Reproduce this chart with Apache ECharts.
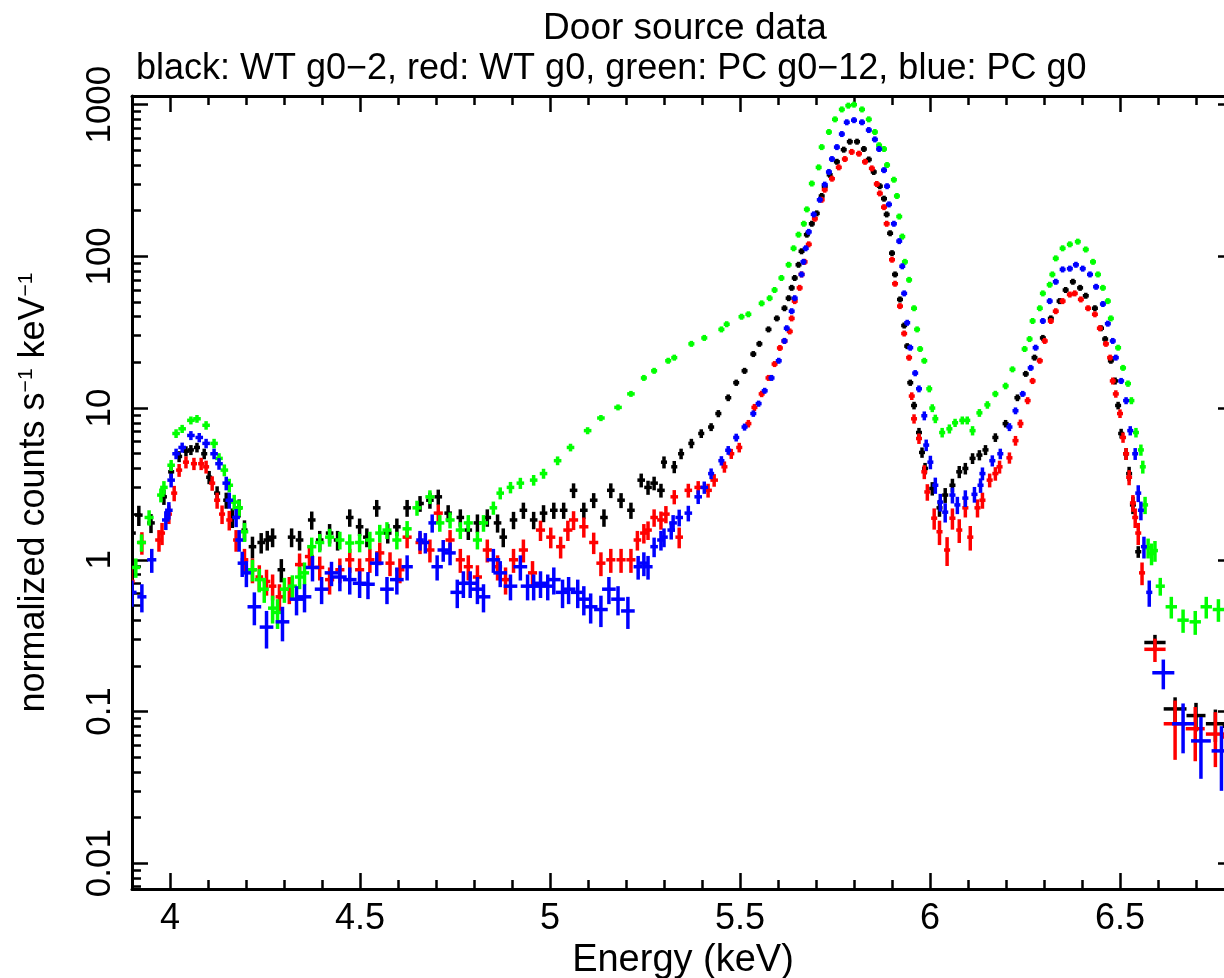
<!DOCTYPE html>
<html><head><meta charset="utf-8">
<script src="https://cdn.jsdelivr.net/npm/echarts@6/dist/echarts.min.js"></script>
<style>html,body{margin:0;padding:0;background:#fff}#chart{width:1224px;height:978px}</style>
</head><body><div id="chart"></div>
<script>
// ---- tick values / labels ----
const xTickValues = [4, 4.5, 5, 5.5, 6, 6.5];
const xMinorTickValues = [4.1,4.2,4.3,4.4,4.6,4.7,4.8,4.9,5.1,5.2,5.3,5.4,5.6,5.7,5.8,5.9,6.1,6.2,6.3,6.4,6.6,6.7];
const yTickValues = [0.01, 0.1, 1, 10, 100, 1000];
const yTickLabels = ['0.01', '0.1', '1', '10', '100', '1000'];
const yMinorTickValues = [0.007,0.008,0.009,0.02,0.03,0.04,0.05,0.06,0.07,0.08,0.09,0.2,0.3,0.4,0.5,0.6,0.7,0.8,0.9,2,3,4,5,6,7,8,9,20,30,40,50,60,70,80,90,200,300,400,500,600,700,800,900];
const seriesNames = ['WT g0-2', 'WT g0', 'PC g0-12', 'PC g0'];

// ---- data: [energy keV, normalized counts s^-1 keV^-1, half bin width, 1-sigma error] ----
const blackData = [
[3.900,1.50,0.010,0.25],[3.918,1.97,0.010,0.30],[3.950,1.75,0.010,0.25],[3.984,2.60,0.008,0.30],
[4.003,3.80,0.008,0.35],[4.024,4.80,0.008,0.40],[4.042,5.20,0.008,0.40],[4.055,5.30,0.008,0.40],
[4.071,5.50,0.008,0.40],[4.090,5.00,0.008,0.40],[4.103,3.50,0.008,0.35],[4.124,2.75,0.008,0.30],
[4.148,2.47,0.008,0.30],[4.164,1.90,0.008,0.28],[4.182,2.20,0.008,0.30],[4.196,1.57,0.008,0.25],
[4.217,1.22,0.010,0.20],[4.240,1.30,0.010,0.20],[4.256,1.35,0.010,0.20],[4.270,1.41,0.010,0.20],
[4.293,0.86,0.010,0.15],[4.320,1.41,0.010,0.20],[4.341,1.35,0.010,0.20],[4.373,1.83,0.010,0.25],
[4.394,1.35,0.010,0.20],[4.420,1.50,0.010,0.22],[4.441,1.35,0.010,0.20],[4.473,1.90,0.010,0.25],
[4.499,1.65,0.010,0.22],[4.518,1.41,0.010,0.20],[4.544,2.20,0.010,0.28],[4.573,1.50,0.010,0.22],
[4.597,1.65,0.010,0.22],[4.624,2.20,0.010,0.28],[4.658,2.35,0.010,0.28],[4.684,2.47,0.010,0.30],
[4.706,2.60,0.010,0.30],[4.732,2.03,0.010,0.26],[4.764,1.90,0.010,0.25],[4.785,1.57,0.010,0.22],
[4.809,1.75,0.010,0.24],[4.835,1.90,0.010,0.25],[4.862,1.75,0.010,0.24],[4.877,1.41,0.010,0.20],
[4.904,1.83,0.010,0.24],[4.930,2.12,0.010,0.26],[4.957,1.83,0.010,0.24],[4.983,2.03,0.010,0.26],
[5.010,2.12,0.010,0.26],[5.036,2.12,0.010,0.26],[5.062,2.87,0.010,0.32],[5.089,2.12,0.010,0.26],
[5.115,2.47,0.010,0.28],[5.142,1.90,0.010,0.25],[5.160,2.87,0.010,0.32],[5.187,2.47,0.010,0.28],
[5.213,2.12,0.010,0.26],[5.240,3.35,0.010,0.35],[5.258,3.00,0.010,0.32],[5.274,3.20,0.010,0.33],
[5.292,2.87,0.010,0.30],[5.300,4.40,0.008,0.40],[5.327,4.10,0.008,0.38],[5.345,5.00,0.008,0.40],
[5.372,5.85,0.008,0.42],[5.398,6.80,0.008,0.45],[5.424,7.50,0.008,0.45],[5.443,9.20,0.008,0.50],
[5.469,11.7,0.008,0.60],[5.490,14.7,0.006,0.70],[5.512,17.6,0.006,0.80],[5.535,22.7,0.006,0.90],
[5.551,26.5,0.006,1.0],[5.575,33,0.006,1.2],[5.597,39,0.005,1.3],[5.617,45.5,0.005,1.4],
[5.628,53,0.005,1.6],[5.636,62,0.005,1.8],[5.644,72,0.005,2.0],[5.654,88,0.005,2.4],
[5.662,108,0.005,2.8],[5.676,139,0.005,3.5],[5.689,164,0.005,4],[5.702,192,0.005,5],
[5.715,250,0.005,6],[5.723,290,0.005,7],[5.736,345,0.005,8],[5.755,420,0.005,10],
[5.773,505,0.005,12],[5.789,570,0.005,13],[5.808,570,0.005,13],[5.826,510,0.005,12],
[5.839,435,0.005,10],[5.852,360,0.005,9],[5.868,290,0.005,7],[5.879,240,0.005,6],
[5.886,189,0.005,5],[5.895,142,0.005,4],[5.900,105,0.005,3],[5.908,76,0.005,2.2],
[5.921,52,0.005,1.6],[5.932,35,0.005,1.2],[5.940,25.6,0.005,1.0],[5.948,14.7,0.005,0.7],
[5.958,10.4,0.005,0.6],[5.971,6.9,0.006,0.5],[5.979,5.1,0.006,0.4],[5.987,4.0,0.006,0.35],
[6.006,2.95,0.008,0.3],[6.025,2.20,0.008,0.28],[6.040,2.67,0.008,0.3],[6.059,3.10,0.008,0.32],
[6.077,3.80,0.008,0.35],[6.093,4.00,0.008,0.35],[6.112,4.66,0.008,0.38],[6.130,4.90,0.008,0.38],
[6.146,5.30,0.008,0.4],[6.172,6.40,0.008,0.42],[6.199,7.90,0.008,0.45],[6.230,11.7,0.006,0.6],
[6.252,16.8,0.006,0.7],[6.275,21.5,0.006,0.8],[6.297,29,0.005,1.0],[6.318,39,0.005,1.2],
[6.341,50.7,0.005,1.5],[6.357,60,0.005,1.7],[6.376,68,0.005,1.9],[6.395,62,0.005,1.8],
[6.410,55,0.005,1.6],[6.434,45.5,0.005,1.4],[6.450,33.6,0.005,1.2],[6.461,28.5,0.005,1.1],
[6.476,20.5,0.005,0.9],[6.487,15.1,0.005,0.8],[6.495,10.4,0.005,0.6],[6.503,6.8,0.006,0.5],
[6.516,5.0,0.006,0.45],[6.524,3.7,0.006,0.4],[6.534,2.3,0.006,0.3],[6.548,1.13,0.008,0.1],
[6.592,0.285,0.028,0.035],[6.645,0.104,0.030,0.02],[6.700,0.094,0.025,0.02],[6.751,0.083,0.025,0.02],
[6.790,0.080,0.020,0.02]
];
const redData = [
[3.897,0.72,0.010,0.15],[3.926,1.30,0.010,0.22],[3.971,1.35,0.010,0.22],[3.979,1.50,0.008,0.25],
[3.997,2.00,0.008,0.28],[4.011,2.75,0.008,0.32],[4.024,3.90,0.008,0.38],[4.042,4.40,0.008,0.4],
[4.063,4.30,0.008,0.4],[4.082,4.30,0.008,0.4],[4.095,4.10,0.008,0.4],[4.111,3.20,0.008,0.35],
[4.124,2.47,0.008,0.3],[4.137,2.00,0.008,0.28],[4.156,1.83,0.008,0.27],[4.174,1.35,0.008,0.22],
[4.196,1.00,0.010,0.18],[4.217,0.86,0.010,0.16],[4.235,0.77,0.010,0.15],[4.254,0.72,0.010,0.14],
[4.270,0.67,0.010,0.13],[4.288,0.57,0.010,0.12],[4.314,0.64,0.012,0.13],[4.341,0.93,0.012,0.17],
[4.367,1.05,0.012,0.18],[4.394,0.89,0.012,0.16],[4.420,0.74,0.012,0.15],[4.447,0.86,0.012,0.16],
[4.473,1.00,0.012,0.18],[4.499,0.86,0.012,0.16],[4.526,1.00,0.012,0.18],[4.552,1.11,0.012,0.19],
[4.579,0.95,0.012,0.17],[4.605,0.86,0.012,0.16],[4.624,1.41,0.012,0.22],[4.658,1.30,0.012,0.21],
[4.684,1.16,0.012,0.2],[4.706,2.03,0.012,0.28],[4.737,1.35,0.012,0.22],[4.764,1.00,0.012,0.18],
[4.785,0.90,0.012,0.17],[4.809,0.77,0.012,0.15],[4.835,1.16,0.012,0.2],[4.862,0.90,0.012,0.17],
[4.883,0.74,0.012,0.15],[4.904,1.00,0.012,0.18],[4.930,1.16,0.012,0.2],[4.954,0.82,0.012,0.16],
[4.975,1.57,0.012,0.24],[5.002,1.41,0.012,0.22],[5.028,1.22,0.012,0.2],[5.047,1.57,0.012,0.24],
[5.062,1.83,0.012,0.26],[5.089,1.65,0.012,0.25],[5.115,1.30,0.012,0.21],[5.134,0.95,0.012,0.17],
[5.160,1.00,0.012,0.18],[5.187,1.00,0.012,0.18],[5.213,1.00,0.012,0.18],[5.230,1.35,0.010,0.2],
[5.247,1.50,0.010,0.22],[5.258,1.57,0.010,0.22],[5.274,1.90,0.010,0.25],[5.292,1.83,0.010,0.25],
[5.305,2.00,0.010,0.26],[5.327,2.60,0.010,0.28],[5.340,1.41,0.010,0.22],[5.364,2.87,0.010,0.3],
[5.390,3.00,0.010,0.3],[5.416,2.87,0.010,0.3],[5.432,3.35,0.010,0.32],[5.459,4.10,0.008,0.35],
[5.477,5.00,0.008,0.38],[5.498,5.50,0.008,0.4],[5.522,7.90,0.008,0.45],[5.538,10.1,0.008,0.55],
[5.557,12.4,0.006,0.6],[5.575,15.8,0.006,0.7],[5.591,19.5,0.006,0.8],[5.605,24.9,0.005,0.9],
[5.617,27.7,0.005,1.0],[5.631,32,0.005,1.1],[5.636,39,0.005,1.2],[5.644,50.7,0.005,1.5],
[5.657,62,0.005,1.8],[5.662,76,0.005,2.0],[5.670,92,0.005,2.4],[5.681,120,0.005,3],
[5.697,177,0.005,4],[5.715,236,0.005,6],[5.723,275,0.005,7],[5.742,325,0.005,8],
[5.760,386,0.005,9],[5.776,438,0.005,10],[5.794,488,0.005,11],[5.813,475,0.005,11],
[5.829,420,0.005,10],[5.847,380,0.005,9],[5.860,300,0.005,7],[5.868,260,0.005,6],
[5.879,211,0.005,5],[5.886,164,0.005,4],[5.900,95,0.005,3],[5.908,66,0.005,2.2],
[5.921,47,0.005,1.6],[5.932,31,0.005,1.2],[5.945,21.5,0.005,1.0],[5.952,12,0.005,0.7],
[5.958,8.5,0.006,0.6],[5.971,6.3,0.006,0.5],[5.985,3.8,0.006,0.4],[5.993,2.8,0.008,0.35],
[6.011,1.88,0.008,0.3],[6.025,1.53,0.008,0.28],[6.045,1.16,0.008,0.25],[6.059,1.88,0.008,0.3],
[6.077,1.57,0.008,0.28],[6.093,2.20,0.008,0.3],[6.106,1.41,0.008,0.26],[6.125,2.20,0.008,0.3],
[6.138,2.47,0.008,0.3],[6.157,3.35,0.008,0.35],[6.172,3.70,0.008,0.38],[6.183,4.10,0.008,0.4],
[6.209,4.70,0.008,0.4],[6.225,6.10,0.008,0.45],[6.238,7.90,0.006,0.5],[6.257,11.2,0.006,0.6],
[6.270,15.1,0.006,0.7],[6.289,20.5,0.005,0.9],[6.302,27.7,0.005,1.0],[6.318,37.5,0.005,1.2],
[6.331,43.5,0.005,1.3],[6.349,50.7,0.005,1.5],[6.368,56,0.005,1.6],[6.381,57,0.005,1.6],
[6.397,52,0.005,1.5],[6.416,45.5,0.005,1.4],[6.434,41.5,0.005,1.3],[6.447,33.6,0.005,1.2],
[6.463,26.5,0.005,1.0],[6.474,21.5,0.005,0.9],[6.481,15.1,0.005,0.8],[6.489,12.4,0.005,0.7],
[6.500,9.2,0.006,0.6],[6.508,6.4,0.006,0.5],[6.516,5.0,0.006,0.45],[6.524,3.5,0.006,0.4],
[6.534,2.37,0.006,0.3],[6.540,1.90,0.006,0.28],[6.548,1.50,0.006,0.25],[6.558,0.82,0.008,0.14],
[6.592,0.257,0.028,0.045],[6.645,0.083,0.030,0.035],[6.698,0.077,0.025,0.03],[6.751,0.071,0.025,0.028],
[6.790,0.068,0.020,0.028]
];
const greenData = [
[3.910,0.89,0.012,0.13],[3.925,1.30,0.012,0.17],[3.945,1.90,0.012,0.22],[3.976,2.67,0.010,0.28],
[3.984,3.00,0.010,0.3],[4.003,4.20,0.010,0.35],[4.016,6.80,0.010,0.45],[4.032,7.30,0.010,0.45],
[4.055,8.30,0.010,0.5],[4.071,8.50,0.010,0.5],[4.095,7.70,0.010,0.5],[4.116,5.85,0.010,0.42],
[4.129,4.66,0.010,0.38],[4.143,3.90,0.010,0.35],[4.156,3.10,0.010,0.32],[4.169,2.40,0.010,0.28],
[4.182,2.20,0.010,0.27],[4.196,1.53,0.010,0.22],[4.217,0.86,0.012,0.14],[4.235,0.74,0.012,0.13],
[4.248,0.64,0.012,0.12],[4.270,0.48,0.012,0.1],[4.283,0.45,0.012,0.1],[4.301,0.64,0.012,0.12],
[4.322,0.67,0.012,0.12],[4.341,0.77,0.012,0.13],[4.354,0.82,0.012,0.14],[4.373,1.22,0.012,0.18],
[4.394,1.30,0.012,0.18],[4.420,1.41,0.012,0.19],[4.447,1.35,0.012,0.18],[4.473,1.29,0.012,0.18],
[4.499,1.30,0.012,0.18],[4.526,1.35,0.012,0.18],[4.552,1.50,0.012,0.2],[4.571,1.57,0.012,0.2],
[4.597,1.35,0.012,0.18],[4.624,1.60,0.012,0.2],[4.650,2.20,0.012,0.25],[4.684,2.60,0.012,0.27],
[4.710,1.75,0.012,0.22],[4.737,1.83,0.012,0.22],[4.764,1.57,0.012,0.2],[4.785,1.75,0.012,0.22],
[4.809,1.35,0.012,0.18],[4.825,1.75,0.012,0.22],[4.851,2.20,0.010,0.22],[4.869,2.75,0.010,0.25],
[4.896,3.00,0.010,0.26],[4.922,3.20,0.010,0.27],[4.957,3.35,0.010,0.27],[4.983,3.70,0.010,0.28],
[5.020,4.50,0.010,0.3],[5.054,5.50,0.010,0.32],[5.099,7.10,0.010,0.38],[5.134,8.60,0.010,0.4],
[5.179,10.1,0.010,0.45],[5.213,12.4,0.010,0.5],[5.247,15.8,0.008,0.6],[5.274,17.6,0.008,0.6],
[5.311,20.5,0.008,0.7],[5.327,21.5,0.008,0.7],[5.372,26.5,0.008,0.8],[5.406,29,0.008,0.9],
[5.451,33,0.008,1.0],[5.465,35.7,0.008,1.0],[5.504,40,0.006,1.1],[5.522,41.5,0.006,1.1],
[5.557,49,0.006,1.3],[5.578,53,0.006,1.4],[5.591,60,0.005,1.6],[5.609,72,0.005,1.9],
[5.628,88,0.005,2.2],[5.641,113,0.005,2.8],[5.654,139,0.005,3.4],[5.668,164,0.005,4],
[5.676,204,0.005,5],[5.689,302,0.005,7],[5.707,386,0.005,9],[5.715,525,0.005,12],
[5.734,660,0.005,15],[5.750,800,0.005,18],[5.768,930,0.005,20],[5.785,985,0.005,21],
[5.800,1000,0.005,22],[5.821,930,0.005,20],[5.839,800,0.005,18],[5.855,660,0.005,15],
[5.866,540,0.005,12],[5.879,510,0.005,12],[5.887,400,0.005,10],[5.905,320,0.005,8],
[5.913,250,0.005,6],[5.919,183,0.005,5],[5.927,135,0.005,4],[5.934,92,0.005,3],
[5.945,70,0.005,2.2],[5.958,45.5,0.005,1.5],[5.966,33,0.005,1.2],[5.974,24.5,0.005,1.0],
[5.985,20.5,0.005,0.9],[5.998,13.4,0.006,0.7],[6.006,10,0.006,0.6],[6.014,8.5,0.006,0.55],
[6.032,6.9,0.008,0.5],[6.051,7.3,0.008,0.5],[6.066,8.0,0.008,0.5],[6.085,8.3,0.008,0.5],
[6.098,8.3,0.008,0.5],[6.112,7.1,0.008,0.5],[6.130,9.3,0.008,0.55],[6.151,10.5,0.008,0.6],
[6.172,12.4,0.008,0.6],[6.199,14,0.008,0.7],[6.217,18,0.006,0.8],[6.249,24.5,0.006,0.9],
[6.262,28.5,0.006,1.0],[6.270,37.5,0.005,1.2],[6.289,45.5,0.005,1.4],[6.297,57,0.005,1.6],
[6.315,65,0.005,1.8],[6.322,76,0.005,2.0],[6.331,97,0.005,2.5],[6.349,113,0.005,2.8],
[6.368,120,0.005,3],[6.389,125,0.005,3],[6.410,111,0.005,2.8],[6.429,92,0.005,2.4],
[6.442,76,0.005,2.0],[6.455,62,0.005,1.8],[6.468,50.7,0.005,1.5],[6.476,39,0.005,1.2],
[6.495,25,0.005,1.0],[6.508,18.4,0.005,0.8],[6.521,14.5,0.005,0.7],[6.530,11.2,0.006,0.6],
[6.542,6.9,0.006,0.5],[6.555,5.3,0.006,0.45],[6.560,4.1,0.006,0.4],[6.566,2.3,0.006,0.3],
[6.574,1.20,0.006,0.18],[6.583,1.10,0.006,0.18],[6.592,1.15,0.006,0.18],[6.606,0.67,0.012,0.09],
[6.635,0.49,0.015,0.08],[6.666,0.40,0.015,0.07],[6.698,0.39,0.015,0.07],[6.727,0.49,0.015,0.08],
[6.759,0.47,0.015,0.08],[6.790,0.44,0.015,0.08]
];
const blueData = [
[3.900,0.61,0.012,0.12],[3.926,0.57,0.012,0.12],[3.952,1.00,0.012,0.18],[3.989,1.83,0.010,0.26],
[3.997,2.12,0.010,0.28],[4.003,3.35,0.010,0.35],[4.016,5.00,0.010,0.4],[4.032,5.50,0.010,0.42],
[4.055,6.60,0.010,0.45],[4.077,6.40,0.010,0.45],[4.095,5.85,0.010,0.42],[4.116,5.00,0.010,0.4],
[4.129,4.30,0.010,0.38],[4.148,3.20,0.010,0.33],[4.156,2.47,0.010,0.3],[4.174,1.90,0.010,0.26],
[4.182,1.35,0.010,0.22],[4.190,0.95,0.012,0.18],[4.201,0.82,0.012,0.16],[4.222,0.49,0.018,0.12],
[4.254,0.36,0.018,0.1],[4.296,0.39,0.018,0.1],[4.333,0.55,0.018,0.12],[4.354,0.57,0.018,0.12],
[4.375,0.89,0.018,0.17],[4.399,0.64,0.018,0.13],[4.425,0.82,0.018,0.15],[4.447,0.77,0.018,0.15],
[4.473,0.74,0.018,0.15],[4.499,0.70,0.018,0.14],[4.521,0.69,0.018,0.14],[4.544,0.95,0.018,0.17],
[4.571,0.64,0.018,0.13],[4.597,0.74,0.018,0.15],[4.624,0.90,0.015,0.17],[4.658,1.35,0.010,0.2],
[4.672,1.30,0.010,0.2],[4.690,1.75,0.010,0.24],[4.703,0.90,0.015,0.17],[4.719,1.16,0.015,0.19],
[4.737,1.11,0.015,0.19],[4.756,0.61,0.018,0.13],[4.772,0.70,0.018,0.14],[4.790,0.70,0.018,0.14],
[4.809,0.64,0.018,0.13],[4.825,0.57,0.018,0.12],[4.851,1.00,0.018,0.18],[4.869,0.82,0.018,0.16],
[4.896,0.67,0.018,0.13],[4.922,0.90,0.018,0.17],[4.941,0.67,0.018,0.13],[4.957,0.67,0.018,0.13],
[4.975,0.70,0.018,0.14],[4.994,0.67,0.018,0.13],[5.010,0.74,0.018,0.15],[5.033,0.61,0.018,0.13],
[5.049,0.64,0.018,0.13],[5.073,0.61,0.018,0.13],[5.089,0.55,0.018,0.12],[5.107,0.49,0.018,0.11],
[5.134,0.47,0.018,0.11],[5.155,0.64,0.018,0.13],[5.179,0.55,0.018,0.12],[5.205,0.46,0.018,0.11],
[5.232,0.90,0.012,0.16],[5.247,0.95,0.012,0.17],[5.258,0.90,0.012,0.16],[5.274,1.22,0.010,0.18],
[5.292,1.35,0.010,0.2],[5.300,1.41,0.010,0.2],[5.319,1.57,0.010,0.21],[5.324,1.75,0.010,0.22],
[5.340,1.90,0.010,0.24],[5.364,2.03,0.010,0.24],[5.390,2.60,0.010,0.27],[5.406,3.00,0.010,0.28],
[5.424,3.70,0.008,0.3],[5.451,4.50,0.008,0.32],[5.469,5.27,0.008,0.35],[5.490,6.40,0.008,0.38],
[5.512,7.50,0.008,0.4],[5.535,9.20,0.008,0.45],[5.549,10.7,0.006,0.5],[5.565,13,0.006,0.55],
[5.583,15.8,0.006,0.6],[5.602,20.5,0.005,0.7],[5.617,27.7,0.005,0.9],[5.623,33.6,0.005,1.0],
[5.636,43.5,0.005,1.2],[5.644,53,0.005,1.4],[5.662,76,0.005,2],[5.667,92,0.005,2.4],
[5.673,113,0.005,2.8],[5.681,145,0.005,3.5],[5.694,189,0.005,4.5],[5.710,236,0.005,6],
[5.723,297,0.005,7],[5.734,360,0.005,8],[5.742,438,0.005,10],[5.755,525,0.005,12],
[5.768,640,0.005,14],[5.781,765,0.005,16],[5.800,790,0.005,17],[5.821,765,0.005,16],
[5.839,680,0.005,15],[5.855,590,0.005,13],[5.866,510,0.005,12],[5.879,370,0.005,9],
[5.887,290,0.005,7],[5.892,220,0.005,6],[5.905,164,0.005,4],[5.919,126,0.005,3.2],
[5.927,86,0.005,2.4],[5.932,57,0.005,1.7],[5.940,36.5,0.005,1.2],[5.948,25,0.005,1.0],
[5.961,17,0.005,0.8],[5.971,13.4,0.005,0.7],[5.985,8.9,0.006,0.6],[5.990,5.7,0.006,0.5],
[6.001,4.4,0.006,0.45],[6.014,3.1,0.008,0.38],[6.027,2.40,0.008,0.32],[6.040,2.06,0.008,0.3],
[6.059,2.67,0.008,0.32],[6.072,2.30,0.008,0.3],[6.093,2.55,0.008,0.32],[6.117,2.70,0.008,0.32],
[6.133,3.10,0.008,0.34],[6.138,3.70,0.008,0.36],[6.164,4.50,0.008,0.38],[6.185,5.00,0.008,0.4],
[6.209,7.50,0.008,0.45],[6.225,9.60,0.006,0.5],[6.244,12.4,0.006,0.55],[6.265,18.4,0.006,0.7],
[6.278,25,0.005,0.9],[6.297,37.5,0.005,1.1],[6.315,50.7,0.005,1.4],[6.331,68,0.005,1.8],
[6.349,82,0.005,2.1],[6.368,83,0.005,2.1],[6.384,88,0.005,2.2],[6.402,83,0.005,2.1],
[6.421,76,0.005,2.0],[6.437,63,0.005,1.8],[6.455,48.5,0.005,1.4],[6.468,36,0.005,1.2],
[6.481,27.7,0.005,1.0],[6.489,21.5,0.005,0.9],[6.503,15.1,0.005,0.7],[6.516,11.2,0.006,0.6],
[6.527,7.1,0.006,0.5],[6.540,5.0,0.006,0.45],[6.548,2.75,0.006,0.35],[6.555,2.12,0.006,0.3],
[6.563,1.22,0.006,0.2],[6.577,0.61,0.008,0.12],[6.614,0.18,0.029,0.04],[6.666,0.083,0.029,0.03],
[6.713,0.064,0.026,0.028],[6.767,0.055,0.026,0.025]
];

// ---- chart ----
const FONT = "'Liberation Sans', Arial, Helvetica, sans-serif";
const X_MIN = 3.9, X_MAX = 6.8;
const Y_MIN = -2.17, Y_MAX = 3.057; // log10 range
const lg = v => Math.log10(v);

function crossSeries(name, rows, color) {
  const data = rows.map(r => [r[0], lg(r[1]), r[0] - r[2], r[0] + r[2],
    lg(Math.max(r[1] - r[3], r[1] * 0.05)), lg(r[1] + r[3])]);
  return {
    type: 'custom', name, data, xAxisIndex: 0, yAxisIndex: 0, clip: true, animation: false,
    encode: { x: [0, 2, 3], y: [1, 4, 5] },
    renderItem(params, api) {
      const c = api.coord([api.value(0), api.value(1)]);
      const l = api.coord([api.value(2), api.value(1)]);
      const r = api.coord([api.value(3), api.value(1)]);
      const lo = api.coord([api.value(0), api.value(4)]);
      const hi = api.coord([api.value(0), api.value(5)]);
      const x1 = Math.min(l[0], c[0] - 3), x2 = Math.max(r[0], c[0] + 3);
      const y1 = Math.min(hi[1], c[1] - 3), y2 = Math.max(lo[1], c[1] + 3);
      return { type: 'group', children: [
        { type: 'line', shape: { x1: x1, y1: c[1], x2: x2, y2: c[1] }, style: { stroke: color, lineWidth: 3.5 } },
        { type: 'line', shape: { x1: c[0], y1: y1, x2: c[0], y2: y2 }, style: { stroke: color, lineWidth: 3.5 } }
      ]};
    }
  };
}

const frameLine = { show: true, onZero: false, lineStyle: { color: '#000', width: 3 } };
const noLine = { show: false, onZero: false };
function xAx(pos, ticks, len, withLabels, line) {
  const ax = {
    type: 'value', min: X_MIN, max: X_MAX, position: pos, gridIndex: 0,
    axisLine: line ? frameLine : noLine,
    axisTick: { show: true, inside: true, length: len, customValues: ticks, lineStyle: { color: '#000', width: 2.5 } },
    axisLabel: withLabels ? { show: true, customValues: ticks, formatter: v => String(+v.toFixed(2)),
      fontSize: 36, fontFamily: FONT, color: '#000', margin: 12 } : { show: false },
    splitLine: { show: false }
  };
  if (withLabels) {
    ax.name = 'Energy (keV)'; ax.nameLocation = 'middle'; ax.nameGap = 44;
    ax.nameTextStyle = { fontSize: 38, fontFamily: FONT, color: '#000' };
  }
  return ax;
}
function yAx(pos, ticks, len, withLabels, line) {
  const lt = ticks.map(lg);
  const ax = {
    type: 'value', min: Y_MIN, max: Y_MAX, position: pos, gridIndex: 0,
    axisLine: line ? frameLine : noLine,
    axisTick: { show: true, inside: true, length: len, customValues: lt, lineStyle: { color: '#000', width: 2.5 } },
    axisLabel: withLabels ? { show: true, customValues: lt, rotate: 90,
      formatter: v => { const i = lt.findIndex(t => Math.abs(t - v) < 1e-6); return i >= 0 ? yTickLabels[i] : ''; },
      fontSize: 35, fontFamily: FONT, color: '#000', margin: 14 } : { show: false },
    splitLine: { show: false }
  };
  if (withLabels) {
    ax.name = 'normalized counts s{sup|\u22121} keV{sup|\u22121}';
    ax.nameLocation = 'middle'; ax.nameGap = 80; ax.nameRotate = 90;
    ax.nameTextStyle = { fontSize: 36, fontFamily: FONT, color: '#000',
      rich: { sup: { fontSize: 21, fontFamily: FONT, color: '#000', verticalAlign: 'top', padding: [0, 0, 14, 0] } } };
  }
  return ax;
}

const chart = echarts.init(document.getElementById('chart'), null, { renderer: 'canvas' });
chart.setOption({
  backgroundColor: '#fff',
  animation: false,
  title: [
    { text: 'Door source data', left: 680, top: 5, textAlign: 'center',
      textStyle: { fontSize: 37, fontWeight: 'normal', fontFamily: FONT, color: '#000' } },
    { text: 'black: WT g0\u22122, red: WT g0, green: PC g0\u221212, blue: PC g0', left: 131, top: 46,
      textStyle: { fontSize: 36, fontWeight: 'normal', fontFamily: FONT, color: '#000' } }
  ],
  grid: { left: 132, top: 96, width: 1102, height: 793, containLabel: false, outerBoundsMode: 'none' },
  xAxis: [
    xAx('bottom', xTickValues, 16, true, true),
    xAx('bottom', xMinorTickValues, 9, false, false),
    xAx('top', xTickValues, 16, false, true),
    xAx('top', xMinorTickValues, 9, false, false)
  ],
  yAxis: [
    yAx('left', yTickValues, 16, true, true),
    yAx('left', yMinorTickValues, 9, false, false),
    yAx('right', yTickValues, 16, false, true),
    yAx('right', yMinorTickValues, 9, false, false)
  ],
  series: [
    crossSeries(seriesNames[0], blackData, '#000000'),
    crossSeries(seriesNames[1], redData, '#ff0000'),
    crossSeries(seriesNames[2], greenData, '#00ff00'),
    crossSeries(seriesNames[3], blueData, '#0000ff')
  ]
});
</script></body></html>
